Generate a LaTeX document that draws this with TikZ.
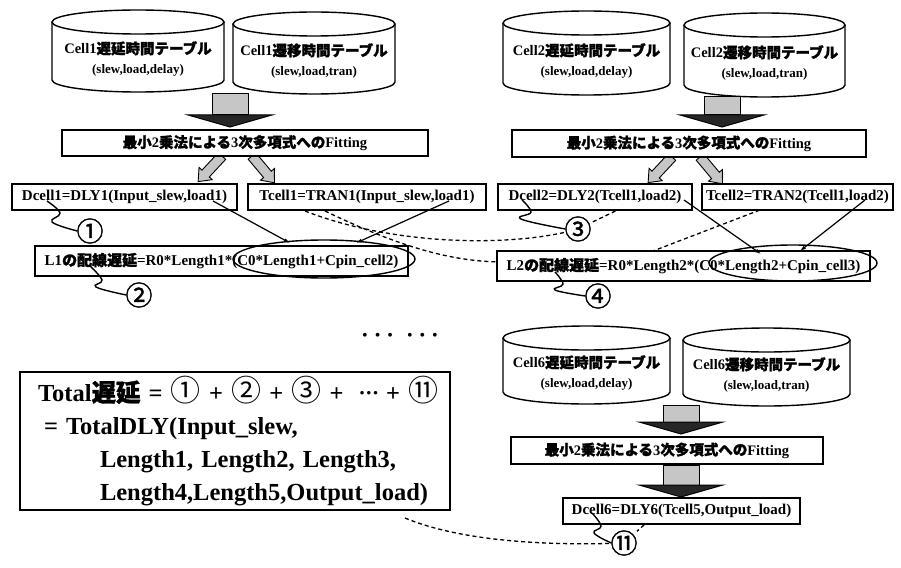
\documentclass[tikz,border=0pt]{standalone}
\usepackage{fontspec}
\setmainfont{Liberation Serif}
\newfontfamily\jpf{Noto Sans CJK JP}[FakeBold=1.5]
\newfontfamily\jpr{Noto Sans CJK JP}
\newcommand{\J}[1]{{\jpf #1}}
\newcommand{\tcirc}[1]{{\jpr\mdseries\fontsize{30}{30}\selectfont #1}}
\usetikzlibrary{shapes.geometric,arrows.meta,backgrounds}

% cylinder: name, x1, x2, ytop, ybot, line1, line2
\newcommand{\dbcyl}[7]{%
  \draw[cylline] (#2,{-(#4)-12}) -- (#2,{-(#5)+12})
     arc[start angle=180,end angle=360,x radius={(#3-#2)/2},y radius=12]
     -- (#3,{-(#4)-12});
  \draw[cylline] ({(#2+#3)/2},{-(#4)-12}) ellipse[x radius={(#3-#2)/2},y radius=12];
  \node[cyltext] (#1) at ({(#2+#3)/2},{-(#4+#5)/2-8}) {#6\\{\fontsize{13}{15}\selectfont #7}};
}
% block arrow: cx, ytop, ybot
\newcommand{\blkarrow}[3]{%
  \draw[blk] ({#1-18},-#2) -- ({#1+18},-#2) -- ({#1+18},{-(#3)+12})
     -- ({#1-18},{-(#3)+12}) -- cycle;
  \draw[blkhead] ({#1-42},{-(#3)+12}) -- ({#1+42},{-(#3)+12}) -- (#1,-#3) -- cycle;
}
% small slanted arrow: x, y, angle
\newcommand{\slarrow}[3]{%
  \begin{scope}[shift={(#1,-#2)},rotate=#3]
    \draw[blk,line width=0.9pt] (0,-5) -- (24,-5) -- (24,-9) -- (35,0) -- (24,9) -- (24,5) -- (0,5) -- cycle;
  \end{scope}
}

\begin{document}
\begin{tikzpicture}[x=1pt,y=1pt,
  box/.style={draw, line width=1.5pt, fill=white, inner sep=0pt,
              font=\fontsize{15}{17}\selectfont\bfseries},
  fitbox/.style={box, font=\fontsize{14.5}{17}\selectfont\bfseries},
  cyltext/.style={align=center, font=\fontsize{14.5}{20}\selectfont\bfseries},
  cylline/.style={line width=1.4pt},
  blk/.style={draw, line width=1pt, fill=gray!45},
  blkhead/.style={draw, line width=1pt, fill=black!85},
  circ/.style={font=\fontsize{27}{27}\selectfont, fill=white, inner sep=-1pt},
  sq/.style={line width=1.4pt},
  dsh/.style={line width=1.3pt, dash pattern=on 4pt off 3pt, -{Latex[length=5pt,width=4pt]}},
  lnk/.style={line width=1.2pt, -{Latex[length=6pt,width=4pt]}},
  ell/.style={draw, ellipse, line width=1.4pt, inner sep=0pt}
]
\useasboundingbox (0,0) rectangle (901,-567);

% ---- cylinders ----
\dbcyl{cA1}{52}{224}{10}{92}{Cell1\J{遅延時間テーブル}}{(slew,load,delay)}
\dbcyl{cB1}{233}{395}{12}{94}{Cell1\J{遷移時間テーブル}}{(slew,load,tran)}
\dbcyl{cA2}{503}{670}{11}{95}{Cell2\J{遅延時間テーブル}}{(slew,load,delay)}
\dbcyl{cB2}{684}{845}{13}{97}{Cell2\J{遷移時間テーブル}}{(slew,load,tran)}
\dbcyl{cA6}{503}{670}{326}{404}{Cell6\J{遅延時間テーブル}}{(slew,load,delay)}
\dbcyl{cB6}{683}{850}{328}{406}{Cell6\J{遷移時間テーブル}}{(slew,load,tran)}

% ---- block arrows ----
\blkarrow{230}{94}{127}
\blkarrow{722}{97}{127}
\blkarrow{681}{405}{434}
\blkarrow{681}{465}{497}
\slarrow{222}{156}{-133}
\slarrow{252}{156}{-50}
\slarrow{672}{157}{-133}
\slarrow{700}{157}{-50}

% ---- boxes ----
\node[fitbox, minimum width=366, minimum height=26] (fit1) at (245,-143)
  {\J{最小}2\J{乗法による}3\J{次多項式への}Fitting};
\node[fitbox, minimum width=354, minimum height=27] (fit2) at (689,-143.5)
  {\J{最小}2\J{乗法による}3\J{次多項式への}Fitting};
\node[fitbox, minimum width=312, minimum height=27] (fit6) at (667,-450.5)
  {\J{最小}2\J{乗法による}3\J{次多項式への}Fitting};

\node[box, minimum width=225, minimum height=26] (D1) at (124.5,-197) {Dcell1=DLY1(Input\_slew,load1)};
\node[box, minimum width=238, minimum height=26] (T1) at (367,-197) {Tcell1=TRAN1(Input\_slew,load1)};
\node[box, minimum width=194, minimum height=26] (D2) at (595,-197) {Dcell2=DLY2(Tcell1,load2)};
\node[box, minimum width=191, minimum height=26] (T2) at (797.5,-197) {Tcell2=TRAN2(Tcell1,load2)};
\node[box, minimum width=373, minimum height=30] (L1) at (221.5,-261)
  {L1\J{の配線遅延}=R0*Length1*(C0*Length1+Cpin\_cell2)};
\node[box, minimum width=373, minimum height=30] (L2) at (683.5,-266)
  {L2\J{の配線遅延}=R0*Length2*(C0*Length2+Cpin\_cell3)};
\node[box, minimum width=237, minimum height=26] (D6) at (681.5,-511) {Dcell6=DLY6(Tcell5,Output\_load)};

\node[ell, minimum width=182, minimum height=38] (E1) at (324,-259) {};
\node[ell, minimum width=168, minimum height=36] (E2) at (793,-263) {};

% ---- total box ----
\node[draw, line width=1.8pt, fill=white, minimum width=430, minimum height=138,
      text width=410, inner xsep=10pt, align=left,
      font=\fontsize{24.5}{33}\selectfont\bfseries] (tot) at (235,-441)
  {\hspace*{8pt}Total\J{遅延} = \tcirc{①} + \tcirc{②} + \tcirc{③} +\ \ {\fontsize{13}{13}\selectfont\raisebox{4pt}{•\,•\,•}} + \tcirc{⑪}\\
   \hspace*{14pt}= TotalDLY(Input\_slew,\\
   \hspace*{70pt}Length1, Length2, Length3,\\
   \hspace*{70pt}Length4,Length5,Output\_load)};

\node (dots) at (400,-337) {\fontsize{16}{16}\selectfont •\hspace{7pt}•\hspace{7pt}•\hspace{14pt}•\hspace{7pt}•\hspace{7pt}•};

% ---- circled markers ----
\node[circ] (c1) at (90,-231) {\J{①}};
\node[circ] (c2) at (139,-295) {\J{②}};
\node[circ] (c3) at (578,-229) {\J{③}};
\node[circ] (c4) at (598,-296) {\J{④}};
\node[circ] (c11) at (624,-543) {\J{⑪}};

% ---- coordinates ----
\coordinate (d1l) at (213,-201);
\coordinate (t1l) at (449,-201);
\coordinate (e1a) at (290,-243);
\coordinate (e1b) at (356,-243);
\coordinate (d2l) at (684,-200);
\coordinate (t2l) at (865,-200);
\coordinate (e2a) at (761,-254);
\coordinate (e2b) at (800,-251);
\coordinate (t1a) at (305,-211);
\coordinate (t1b) at (325,-211);
\coordinate (d2t) at (628,-205);
\coordinate (t2t) at (773,-205);
\coordinate (totc) at (405,-518);
\coordinate (d6t) at (655,-515);

% ---- dashed (behind boxes) ----
\begin{pgfonlayer}{background}
  \draw[dsh] (t1a) .. controls (400,-248) and (520,-246) .. (c3.center) -- (d2t);
  \draw[dsh] (t1b) .. controls (410,-252) and (460,-262) .. (505,-262) -- (640,-256) -- (t2t);
  \draw[dsh] (totc) .. controls (470,-545) and (570,-545) .. (c11.center) -- (d6t);
\end{pgfonlayer}

% ---- solid links ----
\draw[lnk] (d1l) -- (e1a);
\draw[lnk] (t1l) -- (e1b);
\draw[lnk] (d2l) -- (e2a);
\draw[lnk] (t2l) -- (e2b);

% ---- squiggles ----
\draw[sq] plot[smooth, tension=0.7] coordinates {(47,-201) (60,-213) (52,-222) (c1.west)};
\draw[sq] plot[smooth, tension=0.7] coordinates {(90,-266) (102,-280) (96,-287) (c2.west)};
\draw[sq] plot[smooth, tension=0.7] coordinates {(522,-200) (531,-212) (521,-219) (c3.west)};
\draw[sq] plot[smooth, tension=0.7] coordinates {(555,-272) (563,-284) (555,-290) (c4.west)};
\draw[sq] plot[smooth, tension=0.7] coordinates {(592,-513) (601,-526) (594,-533) (c11.west)};
\end{tikzpicture}
\end{document}
